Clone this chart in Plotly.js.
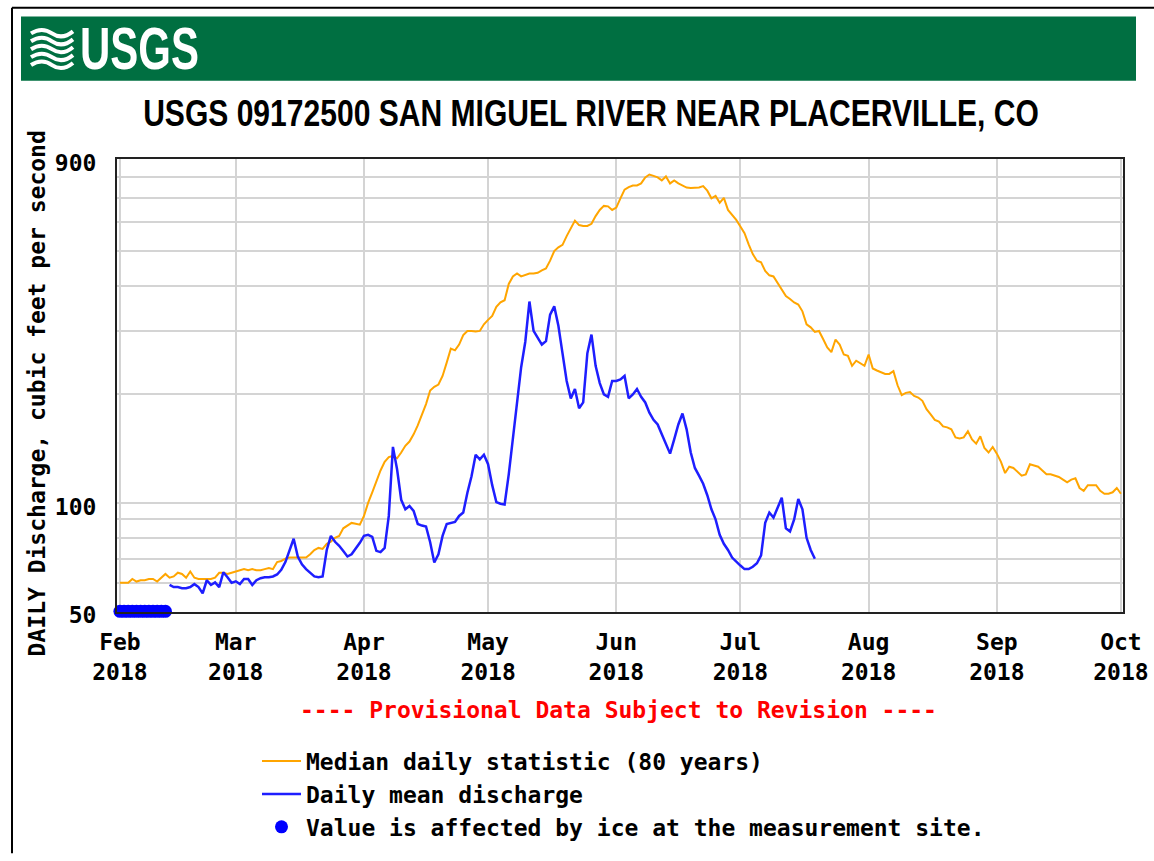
<!DOCTYPE html>
<html>
<head>
<meta charset="utf-8">
<script src="https://cdn.plot.ly/plotly-3.0.1.min.js"></script>
<style>html,body{margin:0;padding:0;background:#fff;}#chart{width:1154px;height:861px;}</style>
</head>
<body>
<div id="chart"></div>
<script>
// ---------------- data ----------------
const medianStart = '2018-02-01';
// Median daily statistic (80 years), cfs, Feb 1 .. Oct 1 2018
const medianCfs = [
 60,60,60,61.5,60.5,61,61,61.5,61.5,60.5,62,63.5,62,62.5,64,63.5,62,64.5,62,61.5,
 61.5,61.5,61.5,62,64,64,63.5,64,
 64.5,65,65.5,65,65.5,65,65,65.5,66,65.5,68.5,69,70,70.5,70.5,70.5,70.5,70.5,72,74,75,74.5,
 77,78,80,81,85,86.5,88,87.5,87,
 92,100,107,115,123,130,134,135,133,138,144,148,155,164,175,188,205,210,213,225,
 245,268,265,275,292,300,300,299,300,313,
 322,330,350,360,365,405,425,433,425,428,433,433,435,442,447,470,500,512,520,550,
 580,607,590,587,587,595,625,650,667,665,650,
 660,700,740,752,760,760,770,800,815,808,800,785,805,770,785,770,760,750,748,748,
 750,757,735,700,711,680,702,650,630,610,
 585,560,522,490,470,465,440,428,425,407,390,375,368,360,355,340,313,307,298,300,
 285,270,262,284,275,258,256,240,248,244,240,
 258,236,233,230,228,228,232,212,199,202,203,198,196,192,182,176,170,168,163,162,
 160,152,151,152,158,150,146,153,142,138,143,
 137,130,121,126,125,122,119,120,128,127,126,123,120,120,119,118,116,114,116,117,
 110,108,112,112,112,108,106,106,107,110,
 106
];
// Daily mean discharge, cfs, Feb 13 .. Jul 19 2018
const dailyStart = '2018-02-13';
const dailyMeanCfs = [
 59.2,58.4,58.4,58,58,58.4,59.5,58.4,56.1,61,59.2,60.2,58.4,64.2,62.2,60,
 60.6,59.5,61.5,61.5,59.2,61,61.8,62.2,62.2,62.5,63.3,65.2,68.5,74,79.5,71,67.5,65.5,64,62.5,
 62.2,62.5,74,81,78,76,73.5,71,72,74.5,77.5,
 81,81.5,80.5,73.6,73,75,92,143,124,102,96,98,95,87.4,86.5,86,77.8,68.3,72,81,
 87.4,88,88.5,92,94,106.7,118.6,136,132,136,
 128,112,100.5,99.5,99,120,150,195,238,280,362,300,287,275,281,333,351,310,260,218,
 195,207,183,190,260,293,240,215,200,197,218,
 218,220,225,195,200,207,197,190,178,170,165,155,145,137,150,165,177,160,138,125,
 119,113,105,96,90,81.5,77,74,70.5,68.5,
 67,65.5,65.5,66.5,68,71.5,88,94,91,97,103.4,85,83.3,90,102.5,96,80,74,70
];
// Values affected by ice (plotted on the bottom of the scale), Feb 1 .. Feb 12
const iceStart = '2018-02-01';
const iceCfs = [50,50,50,50,50,50,50,50,50,50,50,50];

const monthTicks = ['2018-02-01','2018-03-01','2018-04-01','2018-05-01','2018-06-01',
                    '2018-07-01','2018-08-01','2018-09-01','2018-10-01'];
const monthLabels = ['Feb<br>2018','Mar<br>2018','Apr<br>2018','May<br>2018','Jun<br>2018',
                     'Jul<br>2018','Aug<br>2018','Sep<br>2018','Oct<br>2018'];
const yTickVals = [50,60,70,80,90,100,200,300,400,500,600,700,800,900];
const yTickText = ['50','','','','','100','','','','','','','','900'];

const seriesNames = ['Median daily statistic (80 years)','Daily mean discharge',
                     'Value is affected by ice at the measurement site.'];
const chartTitle = 'USGS 09172500 SAN MIGUEL RIVER NEAR PLACERVILLE, CO';
const yTitle = 'DAILY Discharge, cubic feet per second';
const noteText = '---- Provisional Data Subject to Revision ----';

// ---------------- helpers ----------------
function dates(start, n){
  const t0 = Date.parse(start + 'T00:00:00Z');
  const out = [];
  for(let i=0;i<n;i++){ out.push(new Date(t0 + i*86400000).toISOString().slice(0,10)); }
  return out;
}
const W = 1154, H = 861;
const M = {l:117, r:31, t:159, b:244};
const PW = W - M.l - M.r, PH = H - M.t - M.b;
const px = x => (x - M.l) / PW;
const py = y => (H - M.b - y) / PH;

const MONO = 'DejaVu Sans Mono, Liberation Mono, monospace';
const SANS = 'Liberation Sans, Arial, sans-serif';

// ---------------- traces ----------------
const traces = [
  {x: dates(medianStart, medianCfs.length), y: medianCfs, type:'scatter', mode:'lines',
   name: seriesNames[0], line:{color:'#FFA500', width:2}},
  {x: dates(dailyStart, dailyMeanCfs.length), y: dailyMeanCfs, type:'scatter', mode:'lines',
   name: seriesNames[1], line:{color:'#1E1EFF', width:2.5}},
  {x: dates(iceStart, iceCfs.length), y: iceCfs, type:'scatter', mode:'markers',
   name: seriesNames[2], cliponaxis:false,
   marker:{color:'#0000FF', size:13, symbol:'circle'}}
];

// ---------------- decorations ----------------
function wave(y){
  return `M ${px(31)} ${py(y)} Q ${px(42)} ${py(y-7)} ${px(52)} ${py(y)} T ${px(73)} ${py(y-2)}`;
}
const shapes = [
  {type:'rect', xref:'paper', yref:'paper', x0:px(21), x1:px(1136), y0:py(15), y1:py(80),
   fillcolor:'#006F41', line:{width:0}, layer:'below'},
  {type:'line', xref:'paper', yref:'paper', x0:px(12), x1:px(12), y0:py(6), y1:py(861),
   line:{color:'#000', width:2}},
  {type:'line', xref:'paper', yref:'paper', x0:px(12), x1:px(1154), y0:py(6), y1:py(6),
   line:{color:'#000', width:2}}
];
[32,40,48,56,64].forEach(y => shapes.push({type:'path', xref:'paper', yref:'paper',
   path: wave(y), line:{color:'#fff', width:4}}));

const annotations = [
  {xref:'paper', yref:'paper', x:px(78), y:py(47), xanchor:'left', yanchor:'middle',
   text:'<b>USGS</b>', showarrow:false, font:{family:SANS, size:60, color:'#fff'}},
  {xref:'paper', yref:'paper', x:px(37), y:py(396), xanchor:'center', yanchor:'middle',
   text:yTitle, textangle:-90, showarrow:false, font:{family:MONO, size:23, color:'#000', weight:'bold'}},
  {xref:'paper', yref:'paper', x:px(618), y:py(716), xanchor:'center', yanchor:'middle',
   text:noteText, showarrow:false, font:{family:MONO, size:23, color:'#FF0000', weight:'bold'}}
];

const layout = {
  width: W, height: H,
  margin: M,
  paper_bgcolor:'#fff', plot_bgcolor:'#fff',
  title: {text: chartTitle, xref:'container', yref:'container', x: 591/W, y: 1 - 113/H,
          xanchor:'center', yanchor:'middle',
          font:{family:SANS, size:36, color:'#000', weight:'bold'}},
  xaxis: {type:'date', range:['2018-01-31 07:00','2018-10-01 12:00'],
          tickmode:'array', tickvals: monthTicks, ticktext: monthLabels,
          showgrid:true, gridcolor:'#d4d4d4', gridwidth:2,
          showline:true, linecolor:'#222', linewidth:2, mirror:true,
          ticks:'', zeroline:false, ticklabelstandoff:8,
          tickfont:{family:MONO, size:23, color:'#000', weight:'bold'}},
  yaxis: {type:'log', range:[Math.log10(49.8), Math.log10(900)],
          tickmode:'array', tickvals: yTickVals, ticktext: yTickText,
          showgrid:true, gridcolor:'#d4d4d4', gridwidth:2,
          showline:true, linecolor:'#222', linewidth:2, mirror:true,
          ticks:'', zeroline:false, ticklabelstandoff:14, ticklabelshift:4,
          tickfont:{family:MONO, size:23, color:'#000', weight:'bold'}},
  showlegend:true,
  legend: {x: px(257), xanchor:'left', y: py(746), yanchor:'top', orientation:'v',
           bgcolor:'rgba(0,0,0,0)', borderwidth:0, tracegroupgap:0, itemwidth:39,
           font:{family:MONO, size:23, color:'#000', weight:'bold'}},
  shapes: shapes,
  annotations: annotations
};

// squeeze a text element horizontally (condensed look)
function squeeze(el, s){
  if(!el) return;
  const b = el.getBBox();
  const cx = b.x + b.width/2;
  const prev = el.getAttribute('transform') || '';
  el.setAttribute('transform', `${prev} translate(${cx},0) scale(${s},1) translate(${-cx},0)`);
}
function squeezeLeft(el, s){
  if(!el) return;
  const b = el.getBBox();
  const x0 = b.x;
  const prev = el.getAttribute('transform') || '';
  el.setAttribute('transform', `${prev} translate(${x0},0) scale(${s},1) translate(${-x0},0)`);
}

Plotly.newPlot('chart', traces, layout, {displayModeBar:false, staticPlot:true}).then(gd => {
  squeeze(gd.querySelector('.gtitle'), 0.835);
  const ann = gd.querySelectorAll('.annotation-text');
  squeezeLeft(ann[0], 0.7);
});
</script>
</body>
</html>
